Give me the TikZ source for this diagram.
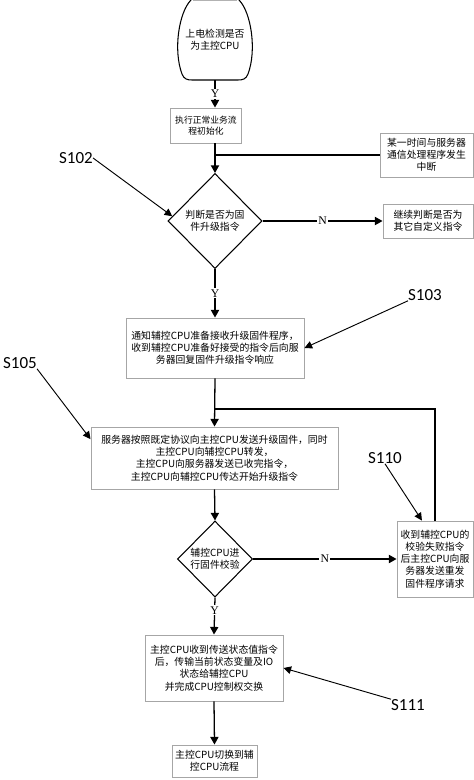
\documentclass[tikz,border=0pt]{standalone}
\usepackage{fontspec}
\newfontfamily\cjk{Noto Sans CJK SC}
\newfontfamily\tagfont{Carlito}
\newfontfamily\ynfont{Liberation Serif}
\usetikzlibrary{shapes.geometric, arrows.meta, positioning, calc}

\begin{document}
\begin{tikzpicture}[
    x=0.03cm, y=-0.03cm,
    every node/.style={font=\cjk\fontsize{8.4}{10.4}\selectfont},
    block/.style={rectangle, draw=gray!70, line width=0.8pt, fill=white, align=center, inner sep=1pt},
    decision/.style={diamond, draw, line width=0.9pt, fill=white, align=center, inner sep=0pt},
    yn/.style={fill=white, inner sep=1pt, font=\ynfont\fontsize{10}{11}\selectfont},
    steplabel/.style={inner sep=0pt, font=\tagfont\fontsize{14.5}{16}\selectfont},
    arrow/.style={-{Triangle[length=6.5pt,width=7pt]}, line width=1.1pt},
    pointer/.style={-{Triangle[length=6.5pt,width=6.5pt]}, line width=0.8pt}
]
\useasboundingbox (0,0) rectangle (474,780);

% start terminal
\draw[line width=0.9pt] (191,0) .. controls (179,12) and (173,50) .. (182,74) .. controls (184,79) and (187,80) .. (192,80) -- (238,80) .. controls (243,80) and (246,79) .. (248,74) .. controls (257,50) and (251,12) .. (239,0);
\draw[gray!60, line width=2.5pt] (193,0) -- (237,0);
\node[minimum width=2.28cm, minimum height=2.4cm, align=center] (start) at (215,40) {上电检测是否\\为主控CPU};

% main column
\node[block, minimum width=2.13cm, minimum height=1.05cm, font=\cjk\fontsize{7.5}{9.2}\selectfont] (init) at (206,125.5) {执行正常业务流\\程初始化};
\node[block, minimum width=2.79cm, minimum height=1.32cm] (intr) at (426.5,155) {某一时间与服务器\\通信处理程序发生\\中断};
\node[decision, minimum width=2.82cm, minimum height=2.85cm] (dec1) at (215,221) {判断是否为固\\件升级指令};
\node[block, minimum width=2.7cm, minimum height=1.02cm] (other) at (428,221) {继续判断是否为\\其它自定义指令};
\node[block, minimum width=5.34cm, minimum height=1.8cm] (notify) at (215,348) {通知辅控CPU准备接收升级固件程序，\\收到辅控CPU准备好接受的指令后向服\\务器回复固件升级指令响应};
\coordinate (loop) at (215,409);
\node[block, minimum width=7.41cm, minimum height=1.86cm] (send) at (214.5,458) {服务器按照既定协议向主控CPU发送升级固件，同时\\主控CPU向辅控CPU转发，\\主控CPU向服务器发送已收完指令，\\主控CPU向辅控CPU传达开始升级指令};
\node[decision, minimum width=2.25cm, minimum height=2.28cm] (dec2) at (215,559) {辅控CPU进\\行固件校验};
\node[block, minimum width=2.28cm, minimum height=2.28cm] (fail) at (435,559) {收到辅控CPU的\\校验失败指令\\后主控CPU向服\\务器发送重发\\固件程序请求};
\node[block, minimum width=4.14cm, minimum height=1.98cm] (swap) at (214,668) {主控CPU收到传送状态值指令\\后，传输当前状态变量及IO\\状态给辅控CPU\\并完成CPU控制权交换};
\node[block, minimum width=2.55cm, minimum height=0.96cm] (final) at (214.5,761) {主控CPU切换到辅\\控CPU流程};

% step tags
\node[steplabel] (s102) at (76,158) {S102};
\node[steplabel] (s103) at (425,295) {S103};
\node[steplabel] (s105) at (20,363) {S105};
\node[steplabel] (s110) at (385,458) {S110};
\node[steplabel] (s111) at (408,705) {S111};

% flow
\draw[arrow] (start.south) -- node[yn] {Y} (start.south |- init.north);
\draw[arrow] (init.south -| dec1.north) -- (dec1.north);
\draw[line width=1.1pt] (intr.west) -- (intr.west -| dec1.north);
\draw[arrow] (dec1.east) -- node[yn] {N} (other.west);
\draw[arrow] (dec1.south) -- node[yn] {Y} (notify.north);
\draw[arrow] (notify.south) -- (send.north);
\draw[line width=1.1pt] (fail.north) |- (loop);
\draw[arrow] (send.south) -- (dec2.north);
\draw[arrow] (dec2.east) -- node[yn] {N} (fail.west);
\draw[arrow] (dec2.south) -- node[yn, pos=0.35] {Y} (swap.north);
\draw[arrow] (swap.south) -- (final.north);

% tag pointers
\draw[pointer] (s102.east) -- ($(dec1.west)!0.1!(dec1.north)$);
\draw[pointer] (s103.south west) -- (notify.east);
\draw[pointer] (s105.south east) -- ($(send.north west)!0.2!(send.south west)$);
\draw[pointer] (s110.south) -- ($(fail.north west)!0.33!(fail.north east)$);
\draw[pointer] (s111.north west) -- (swap.east);

\end{tikzpicture}
\end{document}
